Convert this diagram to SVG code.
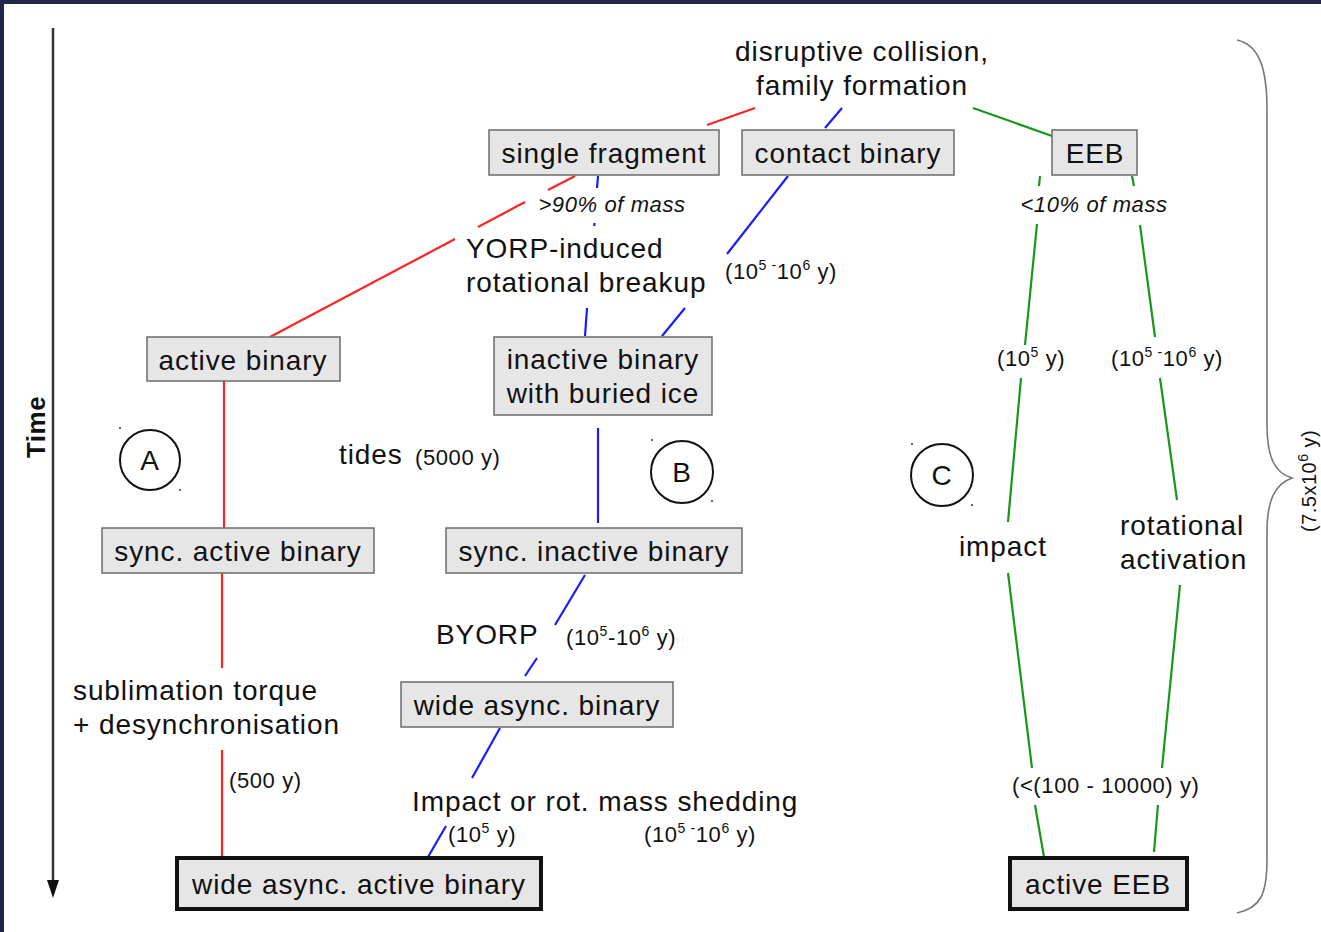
<svg xmlns="http://www.w3.org/2000/svg" width="1321" height="932" viewBox="0 0 1321 932">
<style>
text{font-family:"Liberation Sans",Arial,sans-serif;fill:#111}
.t{font-size:28px;letter-spacing:0.9px}
.s{font-size:22px;letter-spacing:0.6px}
.i{font-size:22px;font-style:italic;letter-spacing:0.6px}
.sup{font-size:14px}
.box{fill:#e6e6e6;stroke:#6b6b6b;stroke-width:1.5}
.bbox{fill:#e6e6e6;stroke:#111;stroke-width:4}
.r{stroke:#ff2222;stroke-width:2.2;fill:none}
.b{stroke:#1a1aff;stroke-width:2.2;fill:none}
.g{stroke:#1a961a;stroke-width:2.2;fill:none}
.circ{fill:none;stroke:#111;stroke-width:2}
</style>
<rect x="0" y="0" width="1321" height="932" fill="#ffffff"/>
<rect x="0" y="0" width="1321" height="4" fill="#22264a"/>
<rect x="0" y="0" width="4" height="932" fill="#22264a"/>

<g id="time-axis">
<line x1="53" y1="28" x2="53" y2="884" stroke="#333" stroke-width="2.5"/>
<polygon points="47,880 59,880 53,898" fill="#111"/>
<text transform="translate(45,427) rotate(-90)" text-anchor="middle" style="font-size:26px;font-weight:bold;letter-spacing:0.5px">Time</text>
</g>

<g id="connectors">
<line class="r" x1="755" y1="108" x2="707" y2="125"/>
<line class="r" x1="575" y1="176" x2="548" y2="190"/>
<line class="r" x1="525" y1="202" x2="478" y2="227"/>
<line class="r" x1="455" y1="239" x2="270" y2="337"/>
<line class="r" x1="224" y1="381" x2="224" y2="528"/>
<line class="r" x1="222" y1="573" x2="222" y2="668"/>
<line class="r" x1="222" y1="750" x2="222" y2="857"/>

<line class="b" x1="842" y1="108" x2="825" y2="128"/>
<line class="b" x1="598" y1="176" x2="597" y2="188"/>
<line class="b" x1="594.5" y1="223" x2="594.3" y2="226"/>
<line class="b" x1="587" y1="308" x2="585" y2="336"/>
<line class="b" x1="788" y1="176" x2="727" y2="254"/>
<line class="b" x1="685" y1="308" x2="662" y2="336"/>
<line class="b" x1="598" y1="428" x2="598" y2="523"/>
<line class="b" x1="585" y1="575" x2="555" y2="625"/>
<line class="b" x1="537" y1="658" x2="525" y2="676"/>
<line class="b" x1="500" y1="728" x2="472" y2="778"/>
<line class="b" x1="446" y1="826" x2="428" y2="857"/>

<line class="g" x1="973" y1="108" x2="1052" y2="136"/>
<line class="g" x1="1040" y1="176" x2="1039" y2="186"/>
<line class="g" x1="1037" y1="224" x2="1025" y2="345"/>
<line class="g" x1="1021" y1="378" x2="1008" y2="522"/>
<line class="g" x1="1008" y1="573" x2="1032" y2="768"/>
<line class="g" x1="1035" y1="805" x2="1044" y2="857"/>
<line class="g" x1="1132" y1="176" x2="1134" y2="186"/>
<line class="g" x1="1140" y1="225" x2="1155" y2="337"/>
<line class="g" x1="1160" y1="378" x2="1177" y2="500"/>
<line class="g" x1="1180" y1="585" x2="1162" y2="768"/>
<line class="g" x1="1158" y1="805" x2="1154" y2="852"/>
</g>

<g id="n-disruptive">
<text class="t" x="862" y="61" text-anchor="middle">disruptive collision,</text>
<text class="t" x="862" y="95" text-anchor="middle">family formation</text>
</g>
<g id="n-single-fragment">
<rect class="box" x="489" y="130" width="230" height="45"/>
<text class="t" x="604" y="163" text-anchor="middle">single fragment</text>
</g>
<g id="n-contact-binary">
<rect class="box" x="742" y="130" width="212" height="45"/>
<text class="t" x="848" y="163" text-anchor="middle">contact binary</text>
</g>
<g id="n-eeb">
<rect class="box" x="1052" y="130" width="85" height="45"/>
<text class="t" x="1095" y="163" text-anchor="middle">EEB</text>
</g>
<g id="n-active-binary">
<rect class="box" x="147" y="337" width="193" height="44"/>
<text class="t" x="243" y="370" text-anchor="middle">active binary</text>
</g>
<g id="n-inactive-binary">
<rect class="box" x="494" y="337" width="218" height="78"/>
<text class="t" x="603" y="369" text-anchor="middle">inactive binary</text>
<text class="t" x="603" y="403" text-anchor="middle">with buried ice</text>
</g>
<g id="n-sync-active">
<rect class="box" x="102" y="528" width="272" height="45"/>
<text class="t" x="238" y="561" text-anchor="middle">sync. active binary</text>
</g>
<g id="n-sync-inactive">
<rect class="box" x="446" y="528" width="296" height="45"/>
<text class="t" x="594" y="561" text-anchor="middle">sync. inactive binary</text>
</g>
<g id="n-wide-async">
<rect class="box" x="401" y="682" width="272" height="45"/>
<text class="t" x="537" y="715" text-anchor="middle">wide async. binary</text>
</g>
<g id="n-wide-async-active">
<rect class="bbox" x="177" y="858" width="364" height="51"/>
<text class="t" x="359" y="894" text-anchor="middle">wide async. active binary</text>
</g>
<g id="n-active-eeb">
<rect class="bbox" x="1010" y="858" width="177" height="51"/>
<text class="t" x="1098" y="894" text-anchor="middle">active EEB</text>
</g>

<g id="labels">
<text class="i" x="612" y="212" text-anchor="middle">&gt;90% of mass</text>
<text class="i" x="1094" y="212" text-anchor="middle">&lt;10% of mass</text>
<text class="t" x="466" y="258">YORP-induced</text>
<text class="t" x="466" y="292">rotational breakup</text>
<text class="s" x="725" y="279">(10<tspan class="sup" dy="-9">5 -</tspan><tspan dy="9">10</tspan><tspan class="sup" dy="-9">6</tspan><tspan dy="9"> y)</tspan></text>
<text class="s" x="997" y="366">(10<tspan class="sup" dy="-9">5</tspan><tspan dy="9"> y)</tspan></text>
<text class="s" x="1111" y="366">(10<tspan class="sup" dy="-9">5 -</tspan><tspan dy="9">10</tspan><tspan class="sup" dy="-9">6</tspan><tspan dy="9"> y)</tspan></text>
<text class="t" x="339" y="464">tides</text>
<text class="s" x="415" y="465">(5000 y)</text>
<text class="t" x="959" y="556">impact</text>
<text class="t" x="1120" y="535">rotational</text>
<text class="t" x="1120" y="569">activation</text>
<text class="t" x="436" y="644">BYORP</text>
<text class="s" x="566" y="645">(10<tspan class="sup" dy="-9">5</tspan><tspan dy="9">-10</tspan><tspan class="sup" dy="-9">6</tspan><tspan dy="9"> y)</tspan></text>
<text class="t" x="73" y="700">sublimation torque</text>
<text class="t" x="73" y="734">+ desynchronisation</text>
<text class="s" x="229" y="788">(500 y)</text>
<text class="t" x="412" y="811">Impact or rot. mass shedding</text>
<text class="s" x="448" y="842">(10<tspan class="sup" dy="-9">5</tspan><tspan dy="9"> y)</tspan></text>
<text class="s" x="644" y="842">(10<tspan class="sup" dy="-9">5 -</tspan><tspan dy="9">10</tspan><tspan class="sup" dy="-9">6</tspan><tspan dy="9"> y)</tspan></text>
<text class="s" x="1012" y="793">(&lt;(100 - 10000) y)</text>
</g>

<g id="stages">
<circle class="circ" cx="150" cy="460" r="30"/>
<text class="t" x="150" y="470" text-anchor="middle">A</text>
<circle class="circ" cx="682" cy="472" r="31"/>
<text class="t" x="682" y="482" text-anchor="middle">B</text>
<circle class="circ" cx="942" cy="475" r="31"/>
<text class="t" x="942" y="485" text-anchor="middle">C</text>
<g fill="#333">
<circle cx="120" cy="428" r="1"/><circle cx="180" cy="490" r="1"/>
<circle cx="652" cy="440" r="1"/><circle cx="712" cy="501" r="1"/>
<circle cx="912" cy="444" r="1"/><circle cx="972" cy="505" r="1"/>
</g>
</g>

<g id="brace">
<path d="M1237,40 C1260,45 1267,70 1267,110 L1267,425 C1267,458 1275,473 1292,478 C1275,484 1267,500 1267,532 L1267,860 C1267,895 1260,908 1237,913" fill="none" stroke="#777" stroke-width="1.6"/>
<text transform="translate(1316,532) rotate(-90)" style="font-size:20px;letter-spacing:0.5px">(7.5x10<tspan class="sup" dy="-8">6</tspan><tspan dy="8"> y)</tspan></text>
</g>
</svg>
